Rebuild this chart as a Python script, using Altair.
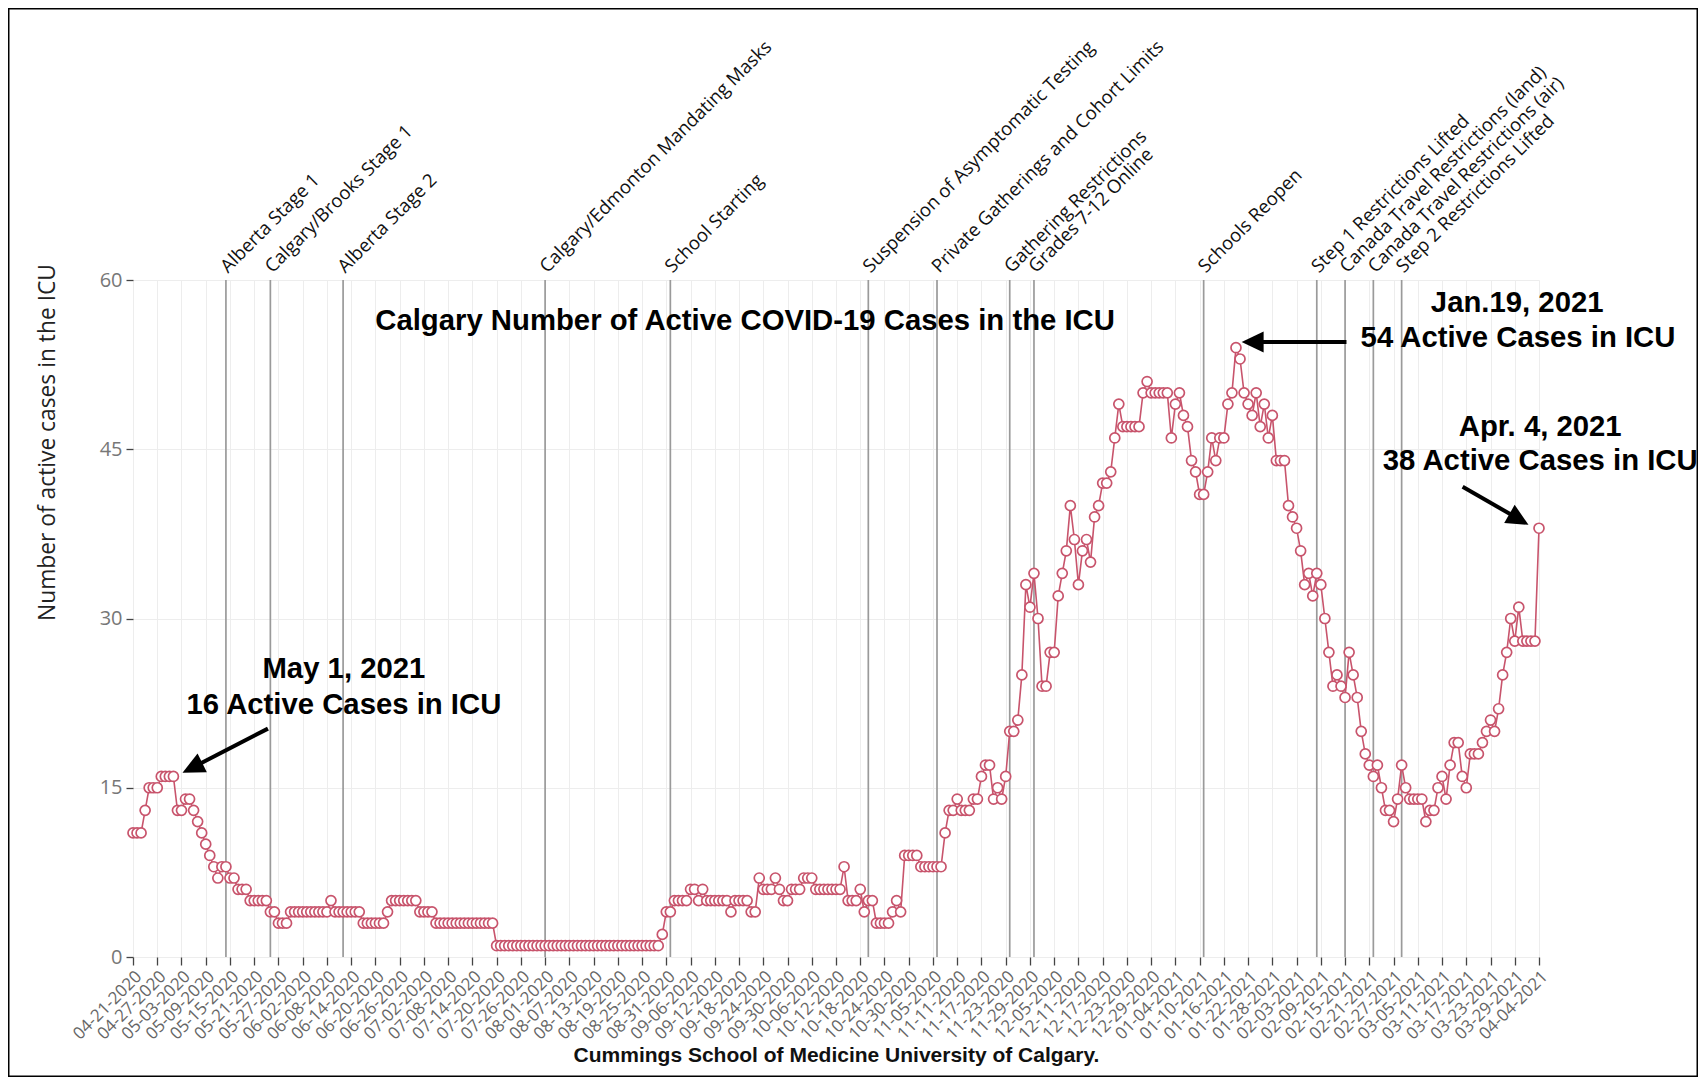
import altair as alt
import pandas as pd

START = "2020-04-21"
END = "2021-04-04"

# Daily active ICU cases, one list per month
apr_2020 = [11, 11, 11, 13, 15, 15, 15, 16, 16, 16]
may_2020 = [16, 13, 13, 14, 14, 13, 12, 11, 10, 9, 8, 7, 8, 8, 7, 7, 6, 6, 6, 5,
            5, 5, 5, 5, 4, 4, 3, 3, 3, 4, 4]
jun_2020 = [4, 4, 4, 4, 4, 4, 4, 4, 5, 4, 4, 4, 4, 4, 4, 4, 3, 3, 3, 3,
            3, 3, 4, 5, 5, 5, 5, 5, 5, 5]
jul_2020 = [4, 4, 4, 4, 3, 3, 3, 3, 3, 3, 3, 3, 3, 3, 3, 3, 3, 3, 3, 1,
            1, 1, 1, 1, 1, 1, 1, 1, 1, 1, 1]
aug_2020 = [1, 1, 1, 1, 1, 1, 1, 1, 1, 1, 1, 1, 1, 1, 1, 1, 1, 1, 1, 1,
            1, 1, 1, 1, 1, 1, 1, 1, 1, 2, 4]
sep_2020 = [4, 5, 5, 5, 5, 6, 6, 5, 6, 5, 5, 5, 5, 5, 5, 4, 5, 5, 5, 5,
            4, 4, 7, 6, 6, 6, 7, 6, 5, 5]
oct_2020 = [6, 6, 6, 7, 7, 7, 6, 6, 6, 6, 6, 6, 6, 8, 5, 5, 5, 6, 4, 5,
            5, 3, 3, 3, 3, 4, 5, 4, 9, 9, 9]
nov_2020 = [9, 8, 8, 8, 8, 8, 8, 11, 13, 13, 14, 13, 13, 13, 14, 14, 16, 17, 17, 14,
            15, 14, 16, 20, 20, 21, 25, 33, 31, 34]
dec_2020 = [30, 24, 24, 27, 27, 32, 34, 36, 40, 37, 33, 36, 37, 35, 39, 40, 42, 42, 43, 46,
            49, 47, 47, 47, 47, 47, 50, 51, 50, 50, 50]
jan_2021 = [50, 50, 46, 49, 50, 48, 47, 44, 43, 41, 41, 43, 46, 44, 46, 46, 49, 50, 54, 53,
            50, 49, 48, 50, 47, 49, 46, 48, 44, 44, 44]
feb_2021 = [40, 39, 38, 36, 33, 34, 32, 34, 33, 30, 27, 24, 25, 24, 23, 27, 25, 23, 20, 18,
            17, 16, 17, 15, 13, 13, 12, 14]
mar_2021 = [17, 15, 14, 14, 14, 14, 12, 13, 13, 15, 16, 14, 17, 19, 19, 16, 15, 18, 18, 18,
            19, 20, 21, 20, 22, 25, 27, 30, 28, 31, 28]
apr_2021 = [28, 28, 28, 38]

values = (apr_2020 + may_2020 + jun_2020 + jul_2020 + aug_2020 + sep_2020 + oct_2020
          + nov_2020 + dec_2020 + jan_2021 + feb_2021 + mar_2021 + apr_2021)

event_dates = ["2020-05-14", "2020-05-25", "2020-06-12", "2020-08-01", "2020-09-01",
               "2020-10-20", "2020-11-06", "2020-11-24", "2020-11-30", "2021-01-11",
               "2021-02-08", "2021-02-15", "2021-02-22", "2021-03-01"]
event_labels = ["Alberta Stage 1", "Calgary/Brooks Stage 1", "Alberta Stage 2",
                "Calgary/Edmonton Mandating Masks", "School Starting",
                "Suspension of Asymptomatic Testing", "Private Gatherings and Cohort Limits",
                "Gathering Restrictions", "Grades 7-12 Online", "Schools Reopen",
                "Step 1 Restrictions Lifted", "Canada Travel Restrictions (land)",
                "Canada Travel Restrictions (air)", "Step 2 Restrictions Lifted"]

y_ticks = [0, 15, 30, 45, 60]
tick_dates = pd.date_range(START, END, freq="6D")

# annotation texts: (day offset from START, y value, text)
note_days = [151.5, 52.2, 52.2, 342.6, 342.8, 348.3, 348.3]
note_vals = [56.4, 25.55, 22.36, 57.93, 54.82, 46.99, 44.0]
note_texts = ["Calgary Number of Active COVID-19 Cases in the ICU",
              "May 1, 2021", "16 Active Cases in ICU",
              "Jan.19, 2021", "54 Active Cases in ICU",
              "Apr. 4, 2021", "38 Active Cases in ICU"]

# arrows: tail, shaft end, tip (day offset, value), head angle
arrow_tail_d = [33.4, 300.35, 329.1]
arrow_tail_v = [20.24, 54.5, 41.67]
arrow_end_d = [14.9, 277.4, 342.8]
arrow_end_v = [16.82, 54.5, 38.86]
arrow_tip_d = [12.25, 274.4, 345.4]
arrow_tip_v = [16.34, 54.5, 38.3]
arrow_angle = [153.7, 180, 30]

W, H = 1406, 677
LINE_COLOR = "#C8546C"
GRID = "#ededed"


def dt(ts):
    ts = pd.Timestamp(ts)
    return alt.DateTime(year=ts.year, month=ts.month, date=ts.day)


def day(d):
    return pd.Timestamp(START) + pd.to_timedelta(d, unit="D")


df = pd.DataFrame({"date": pd.date_range(START, periods=len(values), freq="D"),
                   "value": values})
events = pd.DataFrame({"date": pd.to_datetime(event_dates), "label": event_labels,
                       "value": [60] * len(event_dates)})
notes = pd.DataFrame({"date": [day(d) for d in note_days], "value": note_vals,
                      "text": note_texts})
arrows = pd.DataFrame({"date": [day(d) for d in arrow_tail_d], "value": arrow_tail_v,
                       "date2": [day(d) for d in arrow_end_d], "value2": arrow_end_v})
heads = pd.DataFrame({"date": [day(d) for d in arrow_tip_d], "value": arrow_tip_v,
                      "angle": arrow_angle})

x_scale = alt.Scale(domain=[dt(START), dt(END)], nice=False)
y_scale = alt.Scale(domain=[0, 60], nice=False, zero=True)

x_axis = alt.Axis(values=[dt(d) for d in tick_dates], format="%m-%d-%Y",
                  labelAngle=315, labelAlign="right", labelBaseline="top",
                  labelFont="Open Sans", labelFontSize=17, labelColor="#666666",
                  labelPadding=3, labelOverlap=False, labelFlush=False,
                  tickSize=8, tickColor="#444444", tickWidth=1.3,
                  domain=False, grid=True, gridColor=GRID, gridWidth=1,
                  title="Cummings School of Medicine University of Calgary.",
                  titleFont="Liberation Sans", titleFontWeight="bold", titleFontSize=21,
                  titleColor="#111111", titleX=W / 2, titleY=98,
                  titleAlign="center", titleBaseline="middle")
y_axis = alt.Axis(values=y_ticks, labelFont="Open Sans", labelFontSize=20,
                  labelColor="#777777", labelPadding=4, labelFlush=False,
                  tickSize=7, tickColor="#444444", tickWidth=1.3,
                  domain=False, grid=True, gridColor=GRID, gridWidth=1,
                  title="Number of active cases in the ICU",
                  titleFont="Open Sans", titleFontWeight="normal", titleFontSize=22.8,
                  titleColor="#222222", titleX=-86, titleY=162, titleAngle=270,
                  titleAlign="center", titleBaseline="middle")

X = alt.X("date:T", scale=x_scale, axis=x_axis)
Y = alt.Y("value:Q", scale=y_scale, axis=y_axis)

frame = alt.Chart(pd.DataFrame({"k": [0]})).mark_rect(
    fillOpacity=0, stroke="black", strokeWidth=1.5
).encode(x=alt.value(-124.25), x2=alt.value(W + 158.25),
         y=alt.value(-271.25), y2=alt.value(H + 119.25))

event_rules = alt.Chart(events).mark_rule(color="#9a9a9a", strokeWidth=1.7).encode(x=X)

line = alt.Chart(df).mark_line(color=LINE_COLOR, strokeWidth=1.6).encode(x=X, y=Y)
points = alt.Chart(df).mark_point(
    shape="circle", filled=True, fill="white", stroke=LINE_COLOR,
    strokeWidth=1.7, size=100, opacity=1, fillOpacity=1
).encode(x=X, y=Y)

event_text = alt.Chart(events).mark_text(
    angle=315, align="left", baseline="alphabetic", dx=6, dy=-3,
    font="Open Sans", fontSize=18.6, color="#111111"
).encode(x=X, y=Y, text="label:N")

note_text = alt.Chart(notes).mark_text(
    align="center", baseline="middle", font="Liberation Sans",
    fontWeight="bold", fontSize=29.3, color="#000000"
).encode(x=X, y=Y, text="text:N")

arrow_shaft = alt.Chart(arrows).mark_rule(color="black", strokeWidth=4).encode(
    x=X, y=Y, x2=alt.X2("date2:T"), y2=alt.Y2("value2:Q"))
arrow_head = alt.Chart(heads).mark_point(
    shape="M0,0L-2,-0.95L-2,0.95Z", filled=True, color="black", size=484, opacity=1
).encode(x=X, y=Y, angle=alt.Angle("angle:Q", scale=None))

chart = alt.layer(
    frame, event_rules, line, points, event_text, note_text, arrow_shaft, arrow_head
).properties(
    width=W, height=H,
    padding={"left": 125, "top": 272, "right": 159, "bottom": 120},
    autosize=alt.AutoSizeParams(type="none"),
    background="white",
).configure_view(strokeWidth=0)

chart.save("out.html", embed_options={"renderer": "svg", "actions": False})
